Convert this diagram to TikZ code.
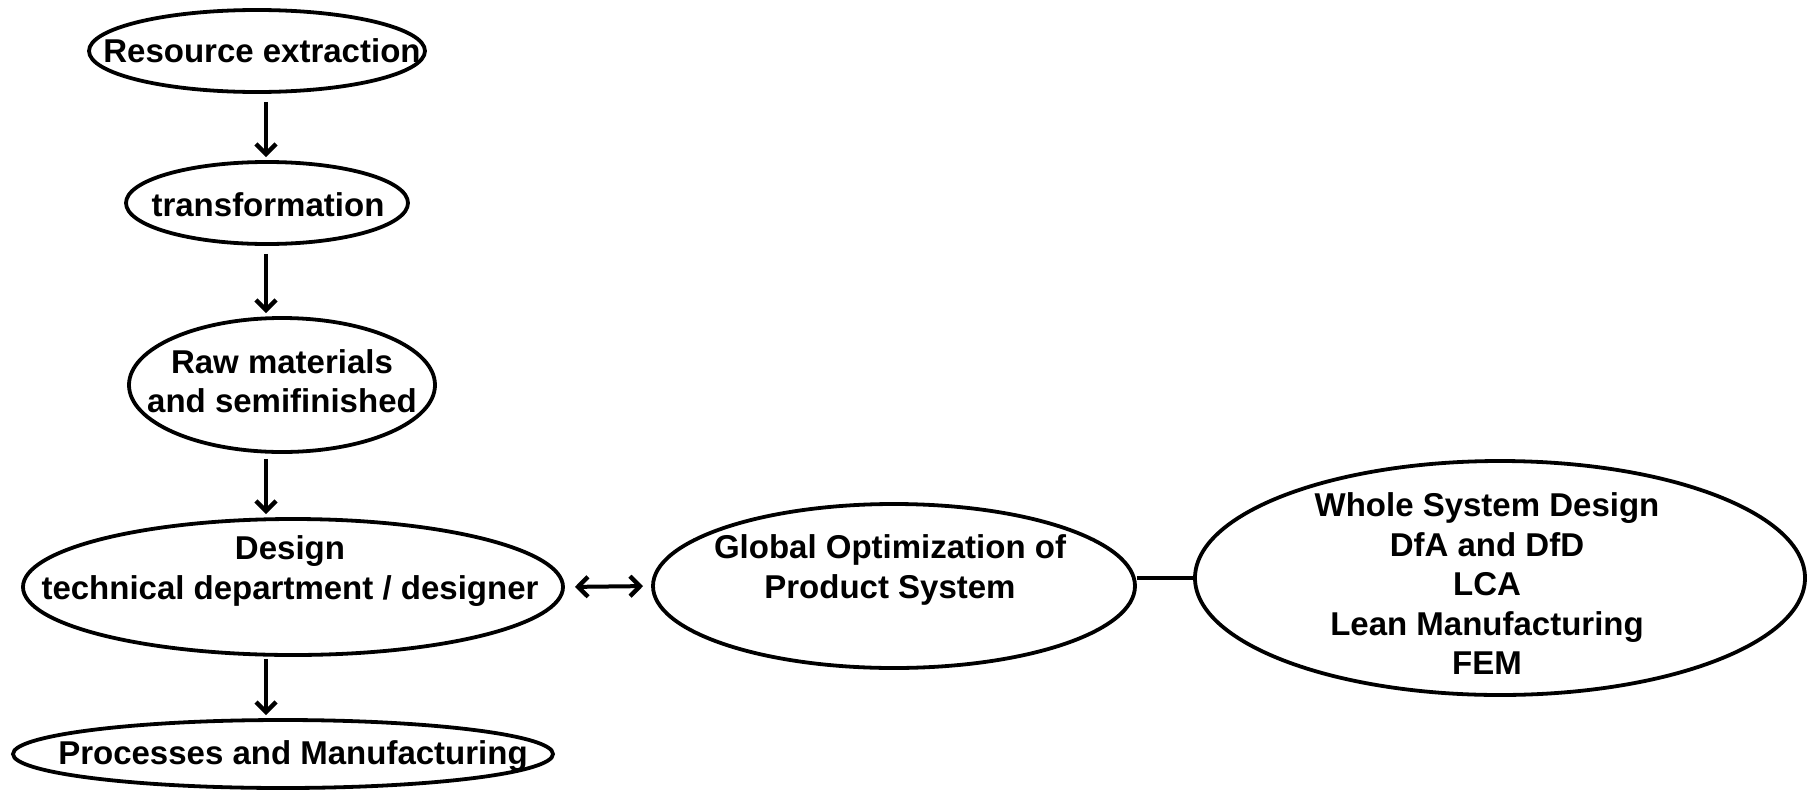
\documentclass[tikz,border=0pt]{standalone}
\usepackage{fontspec}
\setmainfont{Liberation Sans}
\usetikzlibrary{shapes.geometric,arrows.meta}
\begin{document}
\begin{tikzpicture}[x=1pt,y=-1pt,
  oval/.style={draw, ellipse, line width=3.8pt, inner sep=0pt},
  lbl/.style={align=center, inner sep=0pt, font=\bfseries\fontsize{33}{39.5}\selectfont},
  barb/.tip={Straight Barb[length=10pt,width=20pt,line width=4.4pt]},
  flow/.style={line width=4pt, -barb},
  both/.style={line width=4pt, barb-barb},
  link/.style={line width=3.8pt}]
\useasboundingbox (0,0) rectangle (1807,790);

% ellipses of the chain on the left
\node[oval, minimum width=336pt, minimum height=82pt] (res) at (257,51) {};
\node[oval, minimum width=282pt, minimum height=82pt] (trans) at (267,203) {};
\node[oval, minimum width=306pt, minimum height=134pt] (raw) at (282,385) {};
\node[oval, minimum width=540pt, minimum height=136pt] (des) at (293,587) {};
\node[oval, minimum width=540pt, minimum height=68pt] (proc) at (283,754) {};
% ellipses on the right
\node[oval, minimum width=482pt, minimum height=164pt] (glob) at (894,586) {};
\node[oval, minimum width=610pt, minimum height=234pt] (whole) at (1500,578) {};

% texts
\node[lbl] (tres) at (262,51) {Resource extraction};
\node[lbl] (ttrans) at (268,205) {transformation};
\node[lbl] (traw) at (282,381) {Raw materials\\and semifinished};
\node[lbl] (tdes) at (290,571) {Design\\technical department / designer};
\node[lbl] (tproc) at (293,756) {Processes and Manufacturing};
\node[lbl] (tglob) at (890,570) {Global Optimization of\\Product System};
\node[lbl] (twhole) at (1487,584) {Whole System Design\\DfA and DfD\\LCA\\Lean Manufacturing\\FEM};

% vertical spine of the chain
\coordinate (spine) at (266,0);
\draw[flow, shorten <=8pt, shorten >=3pt] (res.south -| spine) -- (trans.north -| spine);
\draw[flow, shorten <=8pt, shorten >=3pt] (trans.south -| spine) -- (raw.north -| spine);
\draw[flow, shorten <=5pt, shorten >=3pt] (raw.south -| spine) -- (des.north -| spine);
\draw[flow, shorten <=2pt, shorten >=3pt] (des.south -| spine) -- (proc.north -| spine);

% links to the right
\draw[both, shorten <=10pt, shorten >=8pt] (des.east) -- (glob.west);
\draw[link] (whole.west -| glob.east) -- (whole.west);
\end{tikzpicture}
\end{document}
